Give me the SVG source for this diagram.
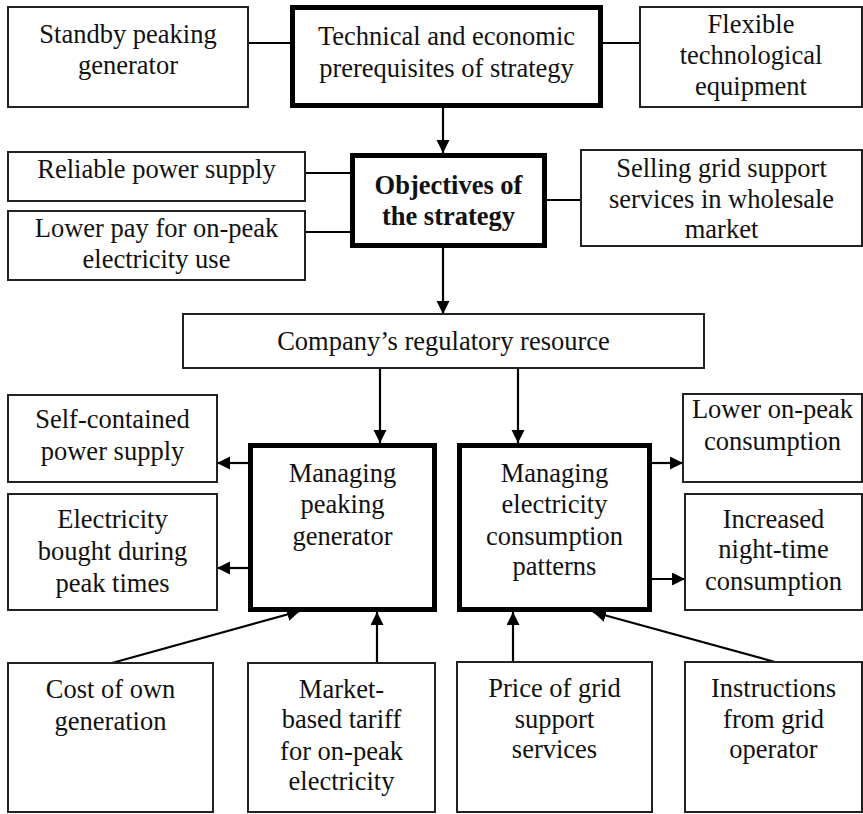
<svg xmlns="http://www.w3.org/2000/svg" width="863" height="814" viewBox="0 0 863 814">
<style>
  .thin { fill: #fff; stroke: #222; stroke-width: 2; }
  .thick { fill: #fff; stroke: #000; stroke-width: 5; }
  text { font-family: "Liberation Serif", "Times New Roman", serif; font-size: 26.5px; fill: #111; text-anchor: middle; }
  .b { font-weight: bold; }
  .c { stroke: #000; stroke-width: 2.2; fill: none; }
  .a { marker-end: url(#ah); }
</style>
<defs>
  <marker id="ah" markerUnits="userSpaceOnUse" markerWidth="14" markerHeight="14" refX="13" refY="6.5" orient="auto">
    <path d="M0,0 L13,6.5 L0,13 z" fill="#000"/>
  </marker>
</defs>
<rect width="863" height="814" fill="#fff"/>

<g id="connectors">
  <line class="c" x1="248" y1="43" x2="292" y2="43"/>
  <line class="c" x1="601" y1="43" x2="640" y2="43"/>
  <line class="c" x1="305" y1="173" x2="352" y2="173"/>
  <line class="c" x1="305" y1="232" x2="352" y2="232"/>
  <line class="c" x1="545" y1="200" x2="581" y2="200"/>
  <line class="c a" x1="443" y1="108" x2="443" y2="153"/>
  <line class="c a" x1="443" y1="248" x2="443" y2="314"/>
  <line class="c a" x1="380" y1="368" x2="380" y2="443"/>
  <line class="c a" x1="518" y1="368" x2="518" y2="443"/>
  <line class="c a" x1="248" y1="463" x2="217" y2="463"/>
  <line class="c a" x1="248" y1="568" x2="217" y2="568"/>
  <line class="c a" x1="652" y1="463" x2="683" y2="463"/>
  <line class="c a" x1="652" y1="579" x2="685" y2="579"/>
  <line class="c a" x1="112" y1="663" x2="300" y2="611"/>
  <line class="c a" x1="377" y1="663" x2="377" y2="612"/>
  <line class="c a" x1="513" y1="662" x2="513" y2="612"/>
  <line class="c a" x1="775" y1="662" x2="593" y2="612"/>
</g>

<g id="standby">
  <rect class="thin" x="8" y="7" width="240" height="100"/>
  <text x="128" y="43">Standby peaking</text>
  <text x="128" y="74">generator</text>
</g>
<g id="technical">
  <rect class="thick" x="292.5" y="7.5" width="308" height="98"/>
  <text x="446.5" y="45">Technical and economic</text>
  <text x="446.5" y="77">prerequisites of strategy</text>
</g>
<g id="flexible">
  <rect class="thin" x="640" y="7" width="222" height="100"/>
  <text x="751" y="33">Flexible</text>
  <text x="751" y="64">technological</text>
  <text x="751" y="95">equipment</text>
</g>
<g id="reliable">
  <rect class="thin" x="8" y="152" width="297" height="49"/>
  <text x="156.5" y="178">Reliable power supply</text>
</g>
<g id="lowerpay">
  <rect class="thin" x="8" y="211" width="297" height="69"/>
  <text x="156.5" y="237">Lower pay for on-peak</text>
  <text x="156.5" y="268">electricity use</text>
</g>
<g id="objectives">
  <rect class="thick" x="352.5" y="155.5" width="192" height="90"/>
  <text class="b" x="448.5" y="194">Objectives of</text>
  <text class="b" x="448.5" y="225">the strategy</text>
</g>
<g id="selling">
  <rect class="thin" x="581" y="150" width="281" height="96"/>
  <text x="721.5" y="177">Selling grid support</text>
  <text x="721.5" y="208">services in wholesale</text>
  <text x="721.5" y="238">market</text>
</g>
<g id="company">
  <rect class="thin" x="183" y="314" width="521" height="54"/>
  <text x="443.5" y="350">Company’s regulatory resource</text>
</g>
<g id="selfcontained">
  <rect class="thin" x="8" y="395" width="209" height="87"/>
  <text x="112.5" y="428">Self-contained</text>
  <text x="112.5" y="460">power supply</text>
</g>
<g id="electricitybought">
  <rect class="thin" x="8" y="494" width="209" height="116"/>
  <text x="112.5" y="528">Electricity</text>
  <text x="112.5" y="560">bought during</text>
  <text x="112.5" y="592">peak times</text>
</g>
<g id="managingpeaking">
  <rect class="thick" x="250.5" y="445.5" width="184" height="164"/>
  <text x="342.5" y="482">Managing</text>
  <text x="342.5" y="513">peaking</text>
  <text x="342.5" y="545">generator</text>
</g>
<g id="managingconsumption">
  <rect class="thick" x="459.5" y="445.5" width="190" height="164"/>
  <text x="554.5" y="482">Managing</text>
  <text x="554.5" y="513">electricity</text>
  <text x="554.5" y="545">consumption</text>
  <text x="554.5" y="575">patterns</text>
</g>
<g id="loweronpeak">
  <rect class="thin" x="683" y="394" width="179" height="88"/>
  <text x="772.5" y="418">Lower on-peak</text>
  <text x="772.5" y="450">consumption</text>
</g>
<g id="increased">
  <rect class="thin" x="685" y="494" width="177" height="116"/>
  <text x="773.5" y="528">Increased</text>
  <text x="773.5" y="558">night-time</text>
  <text x="773.5" y="590">consumption</text>
</g>
<g id="cost">
  <rect class="thin" x="8" y="663" width="205" height="149"/>
  <text x="110.5" y="698">Cost of own</text>
  <text x="110.5" y="730">generation</text>
</g>
<g id="market">
  <rect class="thin" x="248" y="663" width="187" height="149"/>
  <text x="341.5" y="698">Market-</text>
  <text x="341.5" y="728">based tariff</text>
  <text x="341.5" y="760">for on-peak</text>
  <text x="341.5" y="790">electricity</text>
</g>
<g id="price">
  <rect class="thin" x="457" y="662" width="195" height="150"/>
  <text x="554.5" y="697">Price of grid</text>
  <text x="554.5" y="728">support</text>
  <text x="554.5" y="758">services</text>
</g>
<g id="instructions">
  <rect class="thin" x="685" y="662" width="177" height="150"/>
  <text x="773.5" y="697">Instructions</text>
  <text x="773.5" y="728">from grid</text>
  <text x="773.5" y="758">operator</text>
</g>
</svg>
